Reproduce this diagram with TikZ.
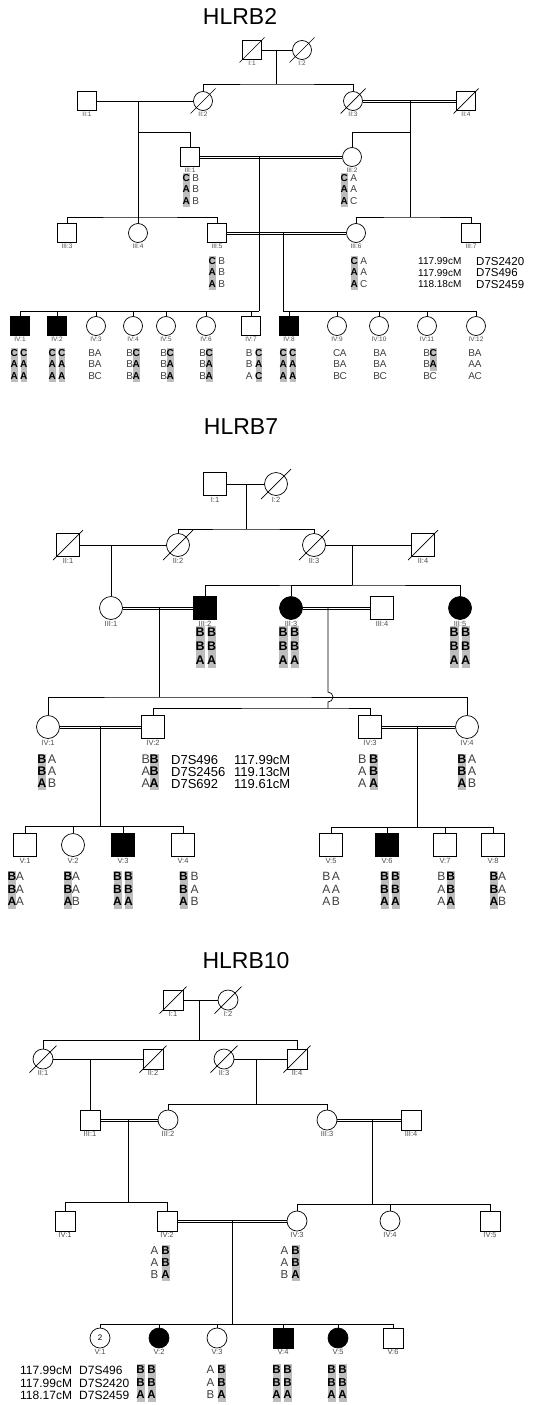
\documentclass[tikz,border=0pt]{standalone}
\usepackage{fontspec}
\setmainfont{Liberation Sans}
\usetikzlibrary{calc}

\definecolor{allelgray}{gray}{0.74}
\newlength\alw
\newlength\alt
\newlength\ald
% font size, row skip, letter width
\newcommand\genofont[3]{\fontsize{#1}{#2}\selectfont\setlength\alt{#2pt}\setlength\ald{\dimexpr #2pt/4\relax}\setlength\alw{#3pt}}
\newcommand\al[1]{\makebox[\alw]{\rule[-\ald]{0pt}{\alt}\color{black!75}#1}}
\newcommand\sh[1]{{\fboxsep=0pt\colorbox{allelgray}{\makebox[\alw]{\rule[-\ald]{0pt}{\alt}\bfseries #1}}}}
\newcommand\gp{\hspace{3pt}}

\tikzset{
  sym/.style={minimum size=20pt},
  male/.style={draw, rectangle, sym, inner sep=0pt, line width=0.7pt},
  female/.style={draw, circle, sym, inner sep=0pt, line width=0.7pt},
  aff/.style={fill=black},
  conn/.style={line width=0.7pt},
  slash/.style={line width=0.7pt},
  dbl/.style={line width=0.6pt},
  geno/.style={align=center, inner sep=0pt},
  marker/.style={align=left, inner sep=0pt, anchor=west},
  title/.style={font=\fontsize{23}{23}\selectfont}
}

\begin{document}
\begin{tikzpicture}[x=1pt, y=-1pt]
\useasboundingbox (0,0) rectangle (540,1405);

% HLRB2
\begin{scope}[sym/.style={minimum size=19pt},
    every label/.style={font=\fontsize{6.5}{6.5}\selectfont, text=black!70, inner sep=1pt},
    gen/.style={geno, font=\genofont{10}{11.5}{6.5}}]
  \node[title] (a-title) at (240,16) {HLRB2};
  % I
  \node[male, label={below:{I:1}}] (a-I1) at (252,50) {};
  \node[female, label={below:{I:2}}] (a-I2) at (302,50) {};
  % II
  \node[male, label={below:{II:1}}] (a-II1) at (87,101) {};
  \node[female, label={below:{II:2}}] (a-II2) at (203,101) {};
  \node[female, label={below:{II:3}}] (a-II3) at (353,101) {};
  \node[male, label={below:{II:4}}] (a-II4) at (466,101) {};
  % III
  \node[male, label={below:{III:1}}] (a-III1) at (190,157) {};
  \node[female, label={below:{III:2}}] (a-III2) at (352,157) {};
  \node[male, label={below:{III:3}}] (a-III3) at (67,233) {};
  \node[female, label={below:{III:4}}] (a-III4) at (138,233) {};
  \node[male, label={below:{III:5}}] (a-III5) at (217,233) {};
  \node[female, label={below:{III:6}}] (a-III6) at (356,233) {};
  \node[male, label={below:{III:7}}] (a-III7) at (471,233) {};
  % IV
  \node[male, aff, label={below:{IV:1}}] (a-IV1) at (20,326) {};
  \node[male, aff, label={below:{IV:2}}] (a-IV2) at (57,326) {};
  \node[female, label={below:{IV:3}}] (a-IV3) at (96,326) {};
  \node[female, label={below:{IV:4}}] (a-IV4) at (133,326) {};
  \node[female, label={below:{IV:5}}] (a-IV5) at (166,326) {};
  \node[female, label={below:{IV:6}}] (a-IV6) at (206,326) {};
  \node[male, label={below:{IV:7}}] (a-IV7) at (251,326) {};
  \node[male, aff, label={below:{IV:8}}] (a-IV8) at (289,326) {};
  \node[female, label={below:{IV:9}}] (a-IV9) at (337,326) {};
  \node[female, label={below:{IV:10}}] (a-IV10) at (379,326) {};
  \node[female, label={below:{IV:11}}] (a-IV11) at (427,326) {};
  \node[female, label={below:{IV:12}}] (a-IV12) at (476,326) {};
  \foreach \n in {a-I1,a-I2,a-II2,a-II3,a-II4}
    \draw[slash] ([xshift=-12.5pt,yshift=-12.5pt]\n.center) -- ([xshift=12.5pt,yshift=12.5pt]\n.center);
  % Ehen und Nachkommen
  \coordinate (a-c1) at (276,50);   \coordinate (a-c1s) at (276,84);
  \coordinate (a-c2) at (138,101);  \coordinate (a-c2a) at (138,132); \coordinate (a-c2b) at (138,217);
  \coordinate (a-c3) at (410,101);  \coordinate (a-c3a) at (410,132); \coordinate (a-c3b) at (410,217);
  \coordinate (a-c4) at (259,157);  \coordinate (a-c4s) at (259,311);
  \coordinate (a-c5) at (283,233);  \coordinate (a-c5s) at (283,311);
  \draw[conn] (a-I1.east) -- (a-I2.west) (a-c1) -- (a-c1s);
  \draw[conn] (a-II1.east) -- (a-II2.west) (a-c2) -- (a-c2b);
  \draw[dbl] ([yshift=1.1pt]a-II3.east) -- ([yshift=1.1pt]a-II4.west) ([yshift=-1.1pt]a-II3.east) -- ([yshift=-1.1pt]a-II4.west);
  \draw[dbl] ([yshift=1.1pt]a-III1.east) -- ([yshift=1.1pt]a-III2.west) ([yshift=-1.1pt]a-III1.east) -- ([yshift=-1.1pt]a-III2.west);
  \draw[dbl] ([yshift=1.1pt]a-III5.east) -- ([yshift=1.1pt]a-III6.west) ([yshift=-1.1pt]a-III5.east) -- ([yshift=-1.1pt]a-III6.west);
  \draw[conn] (a-II2) |- (a-c1s) -| (a-II3);
  \draw[conn] (a-III1) |- (a-c2a);
  \draw[conn] (a-III3) |- (a-c2b) -| (a-III5);
  \draw[conn] (a-III4) -- (a-c2b);
  \draw[conn] (a-c3) -- (a-c3b);
  \draw[conn] (a-III2) |- (a-c3a);
  \draw[conn] (a-III6) |- (a-c3b) -| (a-III7);
  \draw[conn] (a-c4) -- (a-c4s);
  \foreach \k in {1,...,7} \draw[conn] (a-IV\k) |- (a-c4s);
  \draw[conn] (a-c5) -- (a-c5s);
  \foreach \k in {8,...,12} \draw[conn] (a-IV\k) |- (a-c5s);
  % Haplotypen
  \node[gen] (a-III1g) at (191,190) {\sh{C}\gp\al{B}\\\sh{A}\gp\al{B}\\\sh{A}\gp\al{B}};
  \node[gen] (a-III2g) at (349,190) {\sh{C}\gp\al{A}\\\sh{A}\gp\al{A}\\\sh{A}\gp\al{C}};
  \node[gen] (a-III5g) at (217,273) {\sh{C}\gp\al{B}\\\sh{A}\gp\al{B}\\\sh{A}\gp\al{B}};
  \node[gen] (a-III6g) at (359,273) {\sh{C}\gp\al{A}\\\sh{A}\gp\al{A}\\\sh{A}\gp\al{C}};
  \node[gen] (a-IV1g) at (19,365) {\sh{C}\gp\sh{C}\\\sh{A}\gp\sh{A}\\\sh{A}\gp\sh{A}};
  \node[gen] (a-IV2g) at (57,365) {\sh{C}\gp\sh{C}\\\sh{A}\gp\sh{A}\\\sh{A}\gp\sh{A}};
  \node[gen] (a-IV3g) at (95,365) {\al{B}\al{A}\\\al{B}\al{A}\\\al{B}\al{C}};
  \node[gen] (a-IV4g) at (133,365) {\al{B}\sh{C}\\\al{B}\sh{A}\\\al{B}\sh{A}};
  \node[gen] (a-IV5g) at (167,365) {\al{B}\sh{C}\\\al{B}\sh{A}\\\al{B}\sh{A}};
  \node[gen] (a-IV6g) at (206,365) {\al{B}\sh{C}\\\al{B}\sh{A}\\\al{B}\sh{A}};
  \node[gen] (a-IV7g) at (254,365) {\al{B}\gp\sh{C}\\\al{B}\gp\sh{A}\\\al{A}\gp\sh{C}};
  \node[gen] (a-IV8g) at (288,365) {\sh{C}\gp\sh{C}\\\sh{A}\gp\sh{A}\\\sh{A}\gp\sh{A}};
  \node[gen] (a-IV9g) at (340,365) {\al{C}\al{A}\\\al{B}\al{A}\\\al{B}\al{C}};
  \node[gen] (a-IV10g) at (380,365) {\al{B}\al{A}\\\al{B}\al{A}\\\al{B}\al{C}};
  \node[gen] (a-IV11g) at (430,365) {\al{B}\sh{C}\\\al{B}\sh{A}\\\al{B}\al{C}};
  \node[gen] (a-IV12g) at (475,365) {\al{B}\al{A}\\\al{A}\al{A}\\\al{A}\al{C}};
  \node[marker, font=\fontsize{10}{11.5}\selectfont] (a-mk1) at (418,273) {117.99cM\\117.99cM\\118.18cM};
  \node[marker, font=\fontsize{11.5}{11.5}\selectfont] (a-mk2) at (476,273) {D7S2420\\D7S496\\D7S2459};
\end{scope}

% HLRB7
\begin{scope}[sym/.style={minimum size=23pt},
    every label/.style={font=\fontsize{7.5}{7.5}\selectfont, text=black!70, inner sep=0.8pt},
    g3/.style={geno, font=\genofont{12.5}{14}{8.5}},
    g4/.style={geno, font=\genofont{12.5}{12}{8.5}},
    g5/.style={geno, font=\genofont{12}{12.5}{8}}]
  \node[title] (b-title) at (241,427) {HLRB7};
  % I
  \node[male, label={below:{I:1}}] (b-I1) at (215,484) {};
  \node[female, label={below:{I:2}}] (b-I2) at (276,484) {};
  % II
  \node[male, label={below:{II:1}}] (b-II1) at (68,545) {};
  \node[female, label={below:{II:2}}] (b-II2) at (178,545) {};
  \node[female, label={below:{II:3}}] (b-II3) at (314,545) {};
  \node[male, label={below:{II:4}}] (b-II4) at (423,545) {};
  % III
  \node[female, label={below:{III:1}}] (b-III1) at (111,608) {};
  \node[male, aff, label={below:{III:2}}] (b-III2) at (205,608) {};
  \node[female, aff, label={below:{III:3}}] (b-III3) at (291,608) {};
  \node[male, label={below:{III:4}}] (b-III4) at (382,608) {};
  \node[female, aff, label={below:{III:5}}] (b-III5) at (460,608) {};
  % IV
  \node[female, label={below:{IV:1}}] (b-IV1) at (48,727) {};
  \node[male, label={below:{IV:2}}] (b-IV2) at (153,727) {};
  \node[male, label={below:{IV:3}}] (b-IV3) at (370,727) {};
  \node[female, label={below:{IV:4}}] (b-IV4) at (467,727) {};
  % V
  \node[male, label={below:{V:1}}] (b-V1) at (25,845) {};
  \node[female, label={below:{V:2}}] (b-V2) at (73,845) {};
  \node[male, aff, label={below:{V:3}}] (b-V3) at (123,845) {};
  \node[male, label={below:{V:4}}] (b-V4) at (183,845) {};
  \node[male, label={below:{V:5}}] (b-V5) at (331,845) {};
  \node[male, aff, label={below:{V:6}}] (b-V6) at (387,845) {};
  \node[male, label={below:{V:7}}] (b-V7) at (445,845) {};
  \node[male, label={below:{V:8}}] (b-V8) at (493,845) {};
  \foreach \n in {b-I2,b-II1,b-II2,b-II3,b-II4}
    \draw[slash] ([xshift=-15pt,yshift=-15pt]\n.center) -- ([xshift=15pt,yshift=15pt]\n.center);
  % Ehen und Nachkommen
  \coordinate (b-c1) at (246,484);  \coordinate (b-c1s) at (246,529);
  \coordinate (b-c2) at (111,545);
  \coordinate (b-c3) at (352,545);  \coordinate (b-c3s) at (352,585);
  \coordinate (b-c4) at (159,608);  \coordinate (b-c4s) at (159,697);
  \coordinate (b-c5) at (328,608);  \coordinate (b-hop) at (328,697); \coordinate (b-c5s) at (328,708);
  \coordinate (b-c6) at (100,727);  \coordinate (b-c6s) at (100,826);
  \coordinate (b-c7) at (417,727);  \coordinate (b-c7s) at (417,827);
  \draw[conn] (b-I1.east) -- (b-I2.west) (b-c1) -- (b-c1s);
  \draw[conn] (b-II1.east) -- (b-II2.west) (b-c2) -- (b-III1);
  \draw[conn] (b-II3.east) -- (b-II4.west) (b-c3) -- (b-c3s);
  \draw[dbl] ([yshift=1.1pt]b-III1.east) -- ([yshift=1.1pt]b-III2.west) ([yshift=-1.1pt]b-III1.east) -- ([yshift=-1.1pt]b-III2.west);
  \draw[dbl] ([yshift=1.1pt]b-III3.east) -- ([yshift=1.1pt]b-III4.west) ([yshift=-1.1pt]b-III3.east) -- ([yshift=-1.1pt]b-III4.west);
  \draw[dbl] ([yshift=1.1pt]b-IV1.east) -- ([yshift=1.1pt]b-IV2.west) ([yshift=-1.1pt]b-IV1.east) -- ([yshift=-1.1pt]b-IV2.west);
  \draw[dbl] ([yshift=1.1pt]b-IV3.east) -- ([yshift=1.1pt]b-IV4.west) ([yshift=-1.1pt]b-IV3.east) -- ([yshift=-1.1pt]b-IV4.west);
  \draw[conn] (b-II2) |- (b-c1s) -| (b-II3);
  \draw[conn] (b-III2) |- (b-c3s) -| (b-III5);
  \draw[conn] (b-III3) |- (b-c3s);
  \draw[conn] (b-c4) -- (b-c4s);
  \draw[conn] (b-IV1) |- (b-c4s) -| (b-IV4);
  \draw[conn] (b-c5) -- ([yshift=5pt]b-hop) arc[start angle=90, end angle=-90, radius=5pt] -- (b-c5s);
  \draw[conn] (b-IV2) |- (b-c5s) -| (b-IV3);
  \draw[conn] (b-c6) -- (b-c6s);
  \foreach \k in {1,...,4} \draw[conn] (b-V\k) |- (b-c6s);
  \draw[conn] (b-c7) -- (b-c7s);
  \foreach \k in {5,...,8} \draw[conn] (b-V\k) |- (b-c7s);
  % Haplotypen
  \node[g3] (b-III2g) at (206,647) {\sh{B}\gp\sh{B}\\\sh{B}\gp\sh{B}\\\sh{A}\gp\sh{A}};
  \node[g3] (b-III3g) at (289,647) {\sh{B}\gp\sh{B}\\\sh{B}\gp\sh{B}\\\sh{A}\gp\sh{A}};
  \node[g3] (b-III5g) at (460,647) {\sh{B}\gp\sh{B}\\\sh{B}\gp\sh{B}\\\sh{A}\gp\sh{A}};
  \node[g4] (b-IV1g) at (47,772) {\sh{B}\hspace{1.5pt}\al{A}\\\sh{B}\hspace{1.5pt}\al{A}\\\sh{A}\hspace{1.5pt}\al{B}};
  \node[g4] (b-IV2g) at (150,772) {\al{B}\sh{B}\\\al{A}\sh{B}\\\al{A}\sh{A}};
  \node[g4] (b-IV3g) at (368,772) {\al{B}\gp\sh{B}\\\al{A}\gp\sh{B}\\\al{A}\gp\sh{A}};
  \node[g4] (b-IV4g) at (467,772) {\sh{B}\hspace{1.5pt}\al{A}\\\sh{B}\hspace{1.5pt}\al{A}\\\sh{A}\hspace{1.5pt}\al{B}};
  \node[marker, font=\fontsize{13}{12}\selectfont] (b-mk1) at (171,772) {D7S496\\D7S2456\\D7S692};
  \node[marker, font=\fontsize{13}{12}\selectfont] (b-mk2) at (234,772) {117.99cM\\119.13cM\\119.61cM};
  \node[g5] (b-V1g) at (16,890) {\sh{B}\al{A}\\\sh{B}\al{A}\\\sh{A}\al{A}};
  \node[g5] (b-V2g) at (72,890) {\sh{B}\al{A}\\\sh{B}\al{A}\\\sh{A}\al{B}};
  \node[g5] (b-V3g) at (123,890) {\sh{B}\gp\sh{B}\\\sh{B}\gp\sh{B}\\\sh{A}\gp\sh{A}};
  \node[g5] (b-V4g) at (189,890) {\sh{B}\gp\al{B}\\\sh{B}\gp\al{A}\\\sh{A}\gp\al{B}};
  \node[g5] (b-V5g) at (331,890) {\al{B}\hspace{1.5pt}\al{A}\\\al{A}\hspace{1.5pt}\al{A}\\\al{A}\hspace{1.5pt}\al{B}};
  \node[g5] (b-V6g) at (390,890) {\sh{B}\gp\sh{B}\\\sh{B}\gp\sh{B}\\\sh{A}\gp\sh{A}};
  \node[g5] (b-V7g) at (446,890) {\al{B}\hspace{1.5pt}\sh{B}\\\al{A}\hspace{1.5pt}\sh{B}\\\al{A}\hspace{1.5pt}\sh{A}};
  \node[g5] (b-V8g) at (498,890) {\sh{B}\al{A}\\\sh{B}\al{A}\\\sh{A}\al{B}};
\end{scope}

% HLRB10
\begin{scope}[sym/.style={minimum size=20pt},
    every label/.style={font=\fontsize{7.5}{7.5}\selectfont, text=black!70, inner sep=1pt},
    gen/.style={geno, font=\genofont{11.5}{12}{8}},
    g5/.style={geno, font=\genofont{11.5}{12.5}{8}}]
  \node[title] (c-title) at (246,961) {HLRB10};
  % I
  \node[male, label={below:{I:1}}] (c-I1) at (173,1000) {};
  \node[female, label={below:{I:2}}] (c-I2) at (228,1000) {};
  % II
  \node[female, label={below:{II:1}}] (c-II1) at (43,1059) {};
  \node[male, label={below:{II:2}}] (c-II2) at (153,1059) {};
  \node[female, label={below:{II:3}}] (c-II3) at (224,1059) {};
  \node[male, label={below:{II:4}}] (c-II4) at (297,1059) {};
  % III
  \node[male, label={below:{III:1}}] (c-III1) at (90,1120) {};
  \node[female, label={below:{III:2}}] (c-III2) at (168,1120) {};
  \node[female, label={below:{III:3}}] (c-III3) at (327,1120) {};
  \node[male, label={below:{III:4}}] (c-III4) at (411,1120) {};
  % IV
  \node[male, label={below:{IV:1}}] (c-IV1) at (65,1221) {};
  \node[male, label={below:{IV:2}}] (c-IV2) at (167,1221) {};
  \node[female, label={below:{IV:3}}] (c-IV3) at (297,1221) {};
  \node[female, label={below:{IV:4}}] (c-IV4) at (390,1221) {};
  \node[male, label={below:{IV:5}}] (c-IV5) at (490,1221) {};
  % V
  \node[female, font=\fontsize{8}{8}\selectfont, label={below:{V:1}}] (c-V1) at (100,1338) {2};
  \node[female, aff, label={below:{V:2}}] (c-V2) at (159,1338) {};
  \node[female, label={below:{V:3}}] (c-V3) at (217,1338) {};
  \node[male, aff, label={below:{V:4}}] (c-V4) at (283,1338) {};
  \node[female, aff, label={below:{V:5}}] (c-V5) at (338,1338) {};
  \node[male, label={below:{V:6}}] (c-V6) at (393,1338) {};
  \foreach \n in {c-I1,c-I2,c-II1,c-II2,c-II3,c-II4}
    \draw[slash] ([xshift=-13.5pt,yshift=-13.5pt]\n.center) -- ([xshift=13.5pt,yshift=13.5pt]\n.center);
  % Ehen und Nachkommen
  \coordinate (c-c1) at (199,1000); \coordinate (c-c1s) at (199,1040);
  \coordinate (c-c2) at (90,1059);
  \coordinate (c-c3) at (256,1059); \coordinate (c-c3s) at (256,1104);
  \coordinate (c-c4) at (128,1120); \coordinate (c-c4s) at (128,1202);
  \coordinate (c-c5) at (372,1120); \coordinate (c-c5s) at (372,1204);
  \coordinate (c-c6) at (232,1221); \coordinate (c-c6s) at (232,1324);
  \draw[conn] (c-I1.east) -- (c-I2.west) (c-c1) -- (c-c1s);
  \draw[conn] (c-II1.east) -- (c-II2.west) (c-c2) -- (c-III1);
  \draw[conn] (c-II3.east) -- (c-II4.west) (c-c3) -- (c-c3s);
  \draw[dbl] ([yshift=1.1pt]c-III1.east) -- ([yshift=1.1pt]c-III2.west) ([yshift=-1.1pt]c-III1.east) -- ([yshift=-1.1pt]c-III2.west);
  \draw[dbl] ([yshift=1.1pt]c-III3.east) -- ([yshift=1.1pt]c-III4.west) ([yshift=-1.1pt]c-III3.east) -- ([yshift=-1.1pt]c-III4.west);
  \draw[dbl] ([yshift=1.1pt]c-IV2.east) -- ([yshift=1.1pt]c-IV3.west) ([yshift=-1.1pt]c-IV2.east) -- ([yshift=-1.1pt]c-IV3.west);
  \draw[conn] (c-II1) |- (c-c1s) -| (c-II4);
  \draw[conn] (c-III2) |- (c-c3s) -| (c-III3);
  \draw[conn] (c-c4) -- (c-c4s);
  \draw[conn] (c-IV1) |- (c-c4s) -| (c-IV2);
  \draw[conn] (c-c5) -- (c-c5s);
  \draw[conn] (c-IV3) |- (c-c5s) -| (c-IV5);
  \draw[conn] (c-IV4) |- (c-c5s);
  \draw[conn] (c-c6) -- (c-c6s);
  \foreach \k in {1,...,6} \draw[conn] (c-V\k) |- (c-c6s);
  % Haplotypen
  \node[gen] (c-IV2g) at (160,1263) {\al{A}\gp\sh{B}\\\al{A}\gp\sh{B}\\\al{B}\gp\sh{A}};
  \node[gen] (c-IV3g) at (290,1263) {\al{A}\gp\sh{B}\\\al{A}\gp\sh{B}\\\al{B}\gp\sh{A}};
  \node[g5] (c-V2g) at (146,1383) {\sh{B}\gp\sh{B}\\\sh{B}\gp\sh{B}\\\sh{A}\gp\sh{A}};
  \node[g5] (c-V3g) at (216,1383) {\al{A}\gp\sh{B}\\\al{A}\gp\sh{B}\\\al{B}\gp\sh{A}};
  \node[g5] (c-V4g) at (282,1383) {\sh{B}\gp\sh{B}\\\sh{B}\gp\sh{B}\\\sh{A}\gp\sh{A}};
  \node[g5] (c-V5g) at (337,1383) {\sh{B}\gp\sh{B}\\\sh{B}\gp\sh{B}\\\sh{A}\gp\sh{A}};
  \node[marker, font=\fontsize{12}{12.5}\selectfont] (c-mk1) at (20,1383) {117.99cM\\117.99cM\\118.17cM};
  \node[marker, font=\fontsize{12}{12.5}\selectfont] (c-mk2) at (79,1383) {D7S496\\D7S2420\\D7S2459};
\end{scope}
\end{tikzpicture}
\end{document}
